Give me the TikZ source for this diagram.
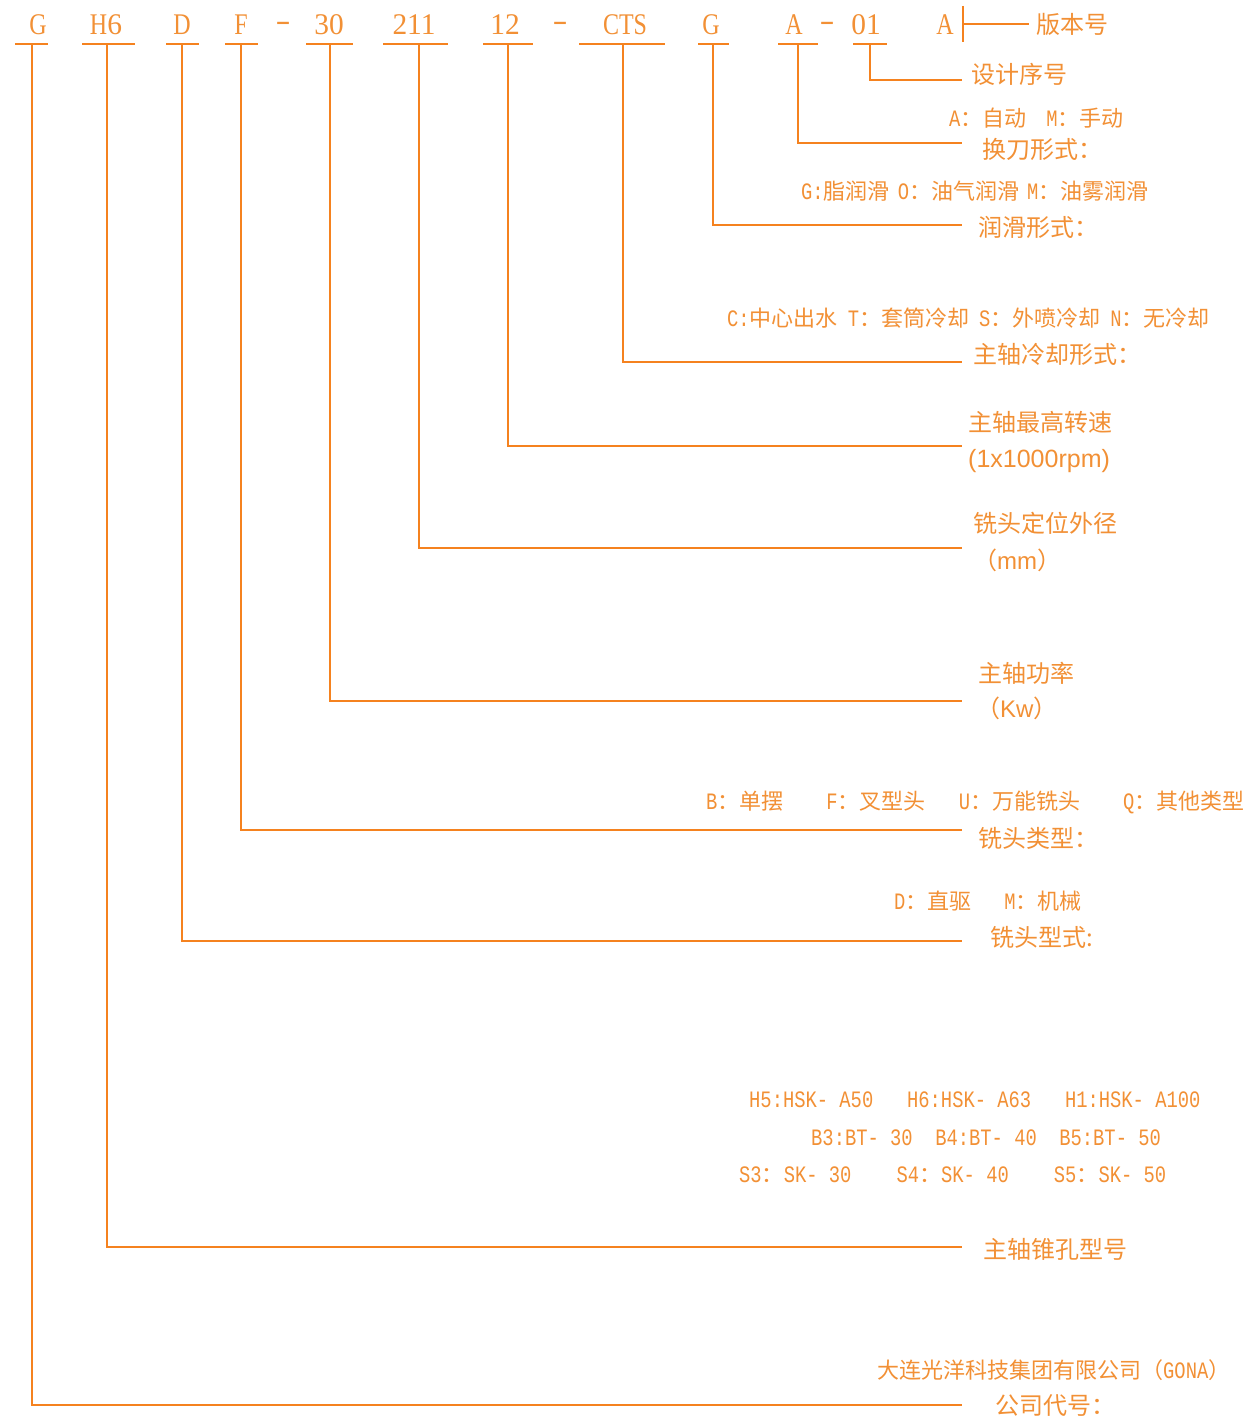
\documentclass[tikz,border=0pt]{standalone}
\usepackage{fontspec}
\usepackage{graphicx}
\setmainfont{Noto Sans CJK SC}
\newfontfamily\monofnt{Liberation Mono}
\newfontfamily\sansfnt{Liberation Sans}
\newfontfamily\seriffnt{Liberation Serif}
\definecolor{lncol}{HTML}{F5821F}
\definecolor{txcol}{HTML}{F29035}
\newcommand\Lt[1]{\scalebox{0.8}[1]{\fontsize{23.5bp}{23.5bp}\selectfont\monofnt #1}}
\newcommand\Tp[1]{\scalebox{0.8}[1]{\fontsize{30bp}{30bp}\selectfont\seriffnt #1}}
\newcommand\Td[1]{\scalebox{0.98}[1]{\fontsize{30bp}{30bp}\selectfont\seriffnt #1}}
\newcommand\Tdash{\scalebox{1.5}[1]{\fontsize{30bp}{30bp}\selectfont\seriffnt -}}
\tikzset{
  code/.style={text=txcol, inner sep=0pt, anchor=base},
  lab/.style={text=txcol, inner sep=0pt, anchor=west, font=\fontsize{24bp}{28bp}\selectfont},
  opt/.style={text=txcol, inner sep=0pt, anchor=west, font=\fontsize{22bp}{26bp}\selectfont},
  uline/.style={draw=lncol, line width=1.4bp},
  lead/.style={draw=lncol, line width=1.4bp},
}
\begin{document}
\begin{tikzpicture}[x=1bp,y=-1bp]
\fill[white] (0,0) rectangle (1255,1418);
\useasboundingbox (0,0) rectangle (1255,1418);

% ---- code row ----
\node[code] (c1) at (38,35) {\Tp{G}};
\node[code] (c2) at (106,35) {\Tp{H}\Td{6}};
\node[code] (c3) at (182,35) {\Tp{D}};
\node[code] (c4) at (241,35) {\Tp{F}};
\node[code] (d1) at (283,31) {\Tdash};
\node[code] (c5) at (329,35) {\Td{30}};
\node[code] (c6) at (414,35) {\Td{211}};
\node[code] (c7) at (505,35) {\Td{12}};
\node[code] (d2) at (560,31) {\Tdash};
\node[code] (c8) at (625,35) {\Tp{CTS}};
\node[code] (c9) at (711,35) {\Tp{G}};
\node[code] (c10) at (794,35) {\Tp{A}};
\node[code] (d3) at (827,31) {\Tdash};
\node[code] (c11) at (866,35) {\Td{01}};
\node[code] (c12) at (945,35) {\Tp{A}};

% underlines
\draw[uline] (15,44) -- (48,44);
\draw[uline] (82,44) -- (135,44);
\draw[uline] (166,44) -- (199,44);
\draw[uline] (225,44) -- (258,44);
\draw[uline] (306,44) -- (353,44);
\draw[uline] (383,44) -- (448,44);
\draw[uline] (483,44) -- (533,44);
\draw[uline] (579,44) -- (665,44);
\draw[uline] (698,44) -- (729,44);
\draw[uline] (778,44) -- (818,44);
\draw[uline] (853,44) -- (887,44);

% connector starts (under each code) and ends
\coordinate (v1) at (32,44);   \coordinate (e1) at (962,1405);
\coordinate (v2) at (107,44);  \coordinate (e2) at (962,1247);
\coordinate (v3) at (182,44);  \coordinate (e3) at (962,941);
\coordinate (v4) at (241,44);  \coordinate (e4) at (962,830);
\coordinate (v5) at (330,44);  \coordinate (e5) at (962,701);
\coordinate (v6) at (419,44);  \coordinate (e6) at (962,548);
\coordinate (v7) at (508,44);  \coordinate (e7) at (962,446);
\coordinate (v8) at (623,44);  \coordinate (e8) at (962,362);
\coordinate (v9) at (713,44);  \coordinate (e9) at (962,225);
\coordinate (v10) at (798,44); \coordinate (e10) at (962,143);
\coordinate (v11) at (870,44); \coordinate (e11) at (962,80);

\foreach \i in {1,...,11} { \draw[lead] (v\i) |- (e\i); }

% version bar
\coordinate (vt) at (963,6);
\coordinate (vb) at (963,42);
\coordinate (vm) at (963,24);
\draw[lead] (vt) -- (vb);
\node[lab] (l12) at (1036,24) {版本号};
\draw[lead] (vm) -- (l12.west -| 1029,0);

% ---- labels ----
\node[lab] (l11) at (971,74) {设计序号};

\node[opt] (o10) at (949,118) {\Lt{A}：自动\hspace{20bp}\Lt{M}：手动};
\node[lab] (l10) at (982,149) {换刀形式：};

\node[opt] (o9) at (801,191) {\Lt{G:}脂润滑\hspace{8bp}\Lt{O}：油气润滑\hspace{8bp}\Lt{M}：油雾润滑};
\node[lab] (l9) at (978,227) {润滑形式：};

\node[opt] (o8) at (727,318) {\Lt{C:}中心出水\hspace{10bp}\Lt{T}：套筒冷却\hspace{10bp}\Lt{S}：外喷冷却\hspace{10bp}\Lt{N}：无冷却};
\node[lab] (l8) at (973,354) {主轴冷却形式：};

\node[lab] (l7) at (968,422) {主轴最高转速};
\node[lab] (l7b) at (968,461) {\fontsize{25bp}{25bp}\selectfont\sansfnt (1x1000rpm)};

\node[lab] (l6) at (973,523) {铣头定位外径};
\node[lab] (l6b) at (973,560) {（{\sansfnt mm}）};

\node[lab] (l5) at (978,673) {主轴功率};
\node[lab] (l5b) at (976,708) {（{\sansfnt Kw}）};

\node[opt] (o4) at (706,802) {\Lt{B}：单摆\hspace{43bp}\Lt{F}：叉型头\hspace{33bp}\Lt{U}：万能铣头\hspace{43bp}\Lt{Q}：其他类型};
\node[lab] (l4) at (978,838) {铣头类型：};

\node[opt] (o3) at (894,901) {\Lt{D}：直驱\hspace{33bp}\Lt{M}：机械};
\node[lab] (l3) at (990,937) {铣头型式:};

\node[opt] (o2a) at (749,1100) {\Lt{H5:HSK-\ A50\ \ \ H6:HSK-\ A63\ \ \ H1:HSK-\ A100}};
\node[opt] (o2b) at (811,1138) {\Lt{B3:BT-\ 30\ \ B4:BT-\ 40\ \ B5:BT-\ 50}};
\node[opt] (o2c) at (739,1175) {\Lt{S3}：\Lt{SK-\ 30\ \ \ \ S4}：\Lt{SK-\ 40\ \ \ \ S5}：\Lt{SK-\ 50}};
\node[lab] (l2) at (983,1249) {主轴锥孔型号};

\node[opt] (o1) at (877,1370) {大连光洋科技集团有限公司（\Lt{GONA}）};
\node[lab] (l1) at (995,1406) {公司代号：};
\end{tikzpicture}
\end{document}
